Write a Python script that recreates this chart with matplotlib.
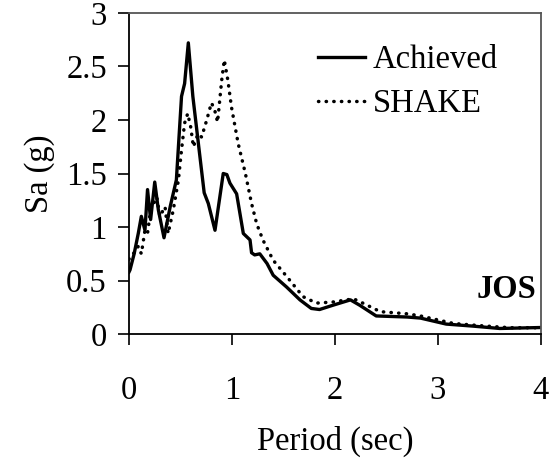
import numpy as np
import matplotlib
matplotlib.use('Agg')
import matplotlib.pyplot as plt

plt.rcParams['font.family'] = ['Liberation Serif', 'DejaVu Serif']

# Achieved spectrum
ach_t = [0.0, 0.01, 0.05, 0.09, 0.12, 0.155, 0.18, 0.21, 0.25, 0.285, 0.34,
         0.40, 0.46, 0.51, 0.54, 0.576, 0.62, 0.67, 0.73, 0.77, 0.835, 0.915,
         0.95, 0.98, 1.045, 1.11, 1.175, 1.19, 1.22, 1.27, 1.34, 1.40, 1.53,
         1.66, 1.77, 1.85, 1.98, 2.15, 2.24, 2.40, 2.70, 2.83, 3.08, 3.34,
         3.60, 4.0]
ach_sa = [0.58, 0.60, 0.75, 0.94, 1.10, 0.97, 1.35, 1.07, 1.42, 1.16, 0.90,
          1.19, 1.44, 2.22, 2.34, 2.72, 2.22, 1.81, 1.32, 1.22, 0.97, 1.50,
          1.49, 1.41, 1.31, 0.94, 0.88, 0.76, 0.74, 0.75, 0.66, 0.55, 0.44,
          0.32, 0.24, 0.23, 0.27, 0.32, 0.27, 0.17, 0.16, 0.15, 0.094, 0.075,
          0.053, 0.062]

# SHAKE spectrum
shk_t = [0.0, 0.01, 0.05, 0.09, 0.12, 0.155, 0.18, 0.21, 0.27, 0.30, 0.35,
         0.38, 0.43, 0.48, 0.51, 0.54, 0.57, 0.60, 0.625, 0.67, 0.705, 0.755,
         0.80, 0.83, 0.86, 0.90, 0.925, 0.96, 0.995, 1.06, 1.13, 1.19, 1.24,
         1.30, 1.40, 1.53, 1.69, 1.82, 1.98, 2.18, 2.27, 2.44, 2.70, 2.83,
         3.15, 3.40, 3.70, 4.0]
shk_sa = [0.70, 0.72, 0.76, 0.82, 0.75, 0.97, 0.94, 1.16, 1.28, 1.10, 1.19,
          0.94, 1.16, 1.44, 1.72, 1.97, 2.06, 1.93, 1.75, 1.87, 1.84, 2.00,
          2.16, 2.10, 1.98, 2.37, 2.56, 2.37, 2.12, 1.78, 1.50, 1.22, 1.03,
          0.88, 0.69, 0.54, 0.35, 0.29, 0.30, 0.33, 0.29, 0.21, 0.19, 0.17,
          0.10, 0.08, 0.06, 0.06]

fs = 23.5

fig = plt.figure(figsize=(5.56, 4.59), dpi=100)
ax = fig.add_axes([0.232, 0.272, 0.741, 0.700])

ax.plot(ach_t, ach_sa, color='black', lw=2.4, label='Achieved', solid_joinstyle='round')
ax.plot(shk_t, shk_sa, color='black', lw=2.5, linestyle=(0, (0.1, 2.1)),
        dash_capstyle='round', label='SHAKE')

ax.set_xlim(0, 4)
ax.set_ylim(0, 3)
ax.set_xticks([0, 1, 2, 3, 4])
ax.set_yticks([0, 0.5, 1, 1.5, 2, 2.5, 3])
ax.set_yticklabels(['0', '0.5', '1', '1.5', '2', '2.5', '3'])
ax.tick_params(direction='out', length=8, width=1.2, labelsize=fs, pad=8)
ax.tick_params(axis='x', pad=22)
ax.tick_params(top=False, right=False)

for side in ['left', 'bottom']:
    ax.spines[side].set_linewidth(1.3)
for side in ['top', 'right']:
    ax.spines[side].set_color('#555555')
    ax.spines[side].set_linewidth(1.3)

ax.set_xlabel('Period (sec)', fontsize=fs, labelpad=14)
ax.set_ylabel('Sa (g)', fontsize=fs, labelpad=8)

ax.text(0.988, 0.14, 'JOS', transform=ax.transAxes, fontsize=fs,
        fontweight='bold', ha='right', va='center')

ax.legend(loc='upper left', bbox_to_anchor=(0.459, 0.901), frameon=False,
          fontsize=fs, handlelength=1.45, handletextpad=0.22, labelspacing=0.42,
          borderpad=0, borderaxespad=0)

fig.savefig('out.png', dpi=100)
